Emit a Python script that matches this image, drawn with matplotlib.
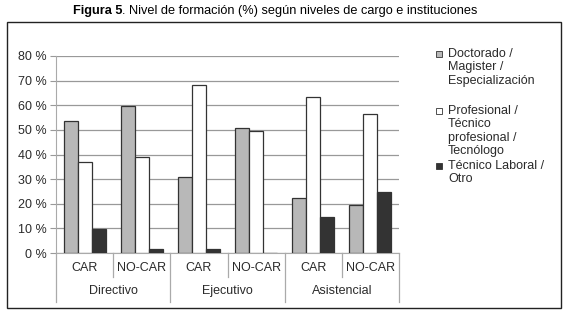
import numpy as np
import matplotlib.pyplot as plt
from matplotlib.patches import Rectangle

plt.rcParams['font.family'] = ['Liberation Sans', 'DejaVu Sans']

niveles = ['Directivo', 'Ejecutivo', 'Asistencial']
inst = ['CAR', 'NO-CAR']
series = ['Doctorado /\nMagister /\nEspecialización',
          'Profesional /\nTécnico\nprofesional /\nTecnólogo',
          'Técnico Laboral /\nOtro']
doctorado = [53.5, 59.8, 30.8, 50.7, 22.2, 19.5]
profesional = [37.0, 38.9, 68.2, 49.6, 63.3, 56.4]
laboral = [9.6, 1.6, 1.5, 0.0, 14.6, 24.8]
yticks = [0, 10, 20, 30, 40, 50, 60, 70, 80]

colores = ['#b8b8b8', '#ffffff', '#333333']
txtc = '#2a2a2a'

fig = plt.figure(figsize=(5.68, 3.21), dpi=100)
ax = fig.add_axes([56/568, 1-253/321, (399-56)/568, (253-56)/321])

x = np.arange(6)
w = 0.245
for i, vals in enumerate([doctorado, profesional, laboral]):
    ax.bar(x + (i-1)*w, vals, w, color=colores[i], edgecolor='#333333',
           linewidth=0.9, zorder=3)

ax.set_xlim(-0.5, 5.5)
ax.set_ylim(0, 80)
ax.set_yticks(yticks)
ax.set_yticklabels(['%d %%' % v for v in yticks], fontsize=9, color=txtc)
ax.yaxis.grid(True, color='#999999', linewidth=0.9, zorder=0)
ax.tick_params(axis='y', length=4, color='#999999', pad=3)
ax.set_xticks([])
for s in ['top', 'right']:
    ax.spines[s].set_visible(False)
ax.spines['left'].set_color('#aaaaaa')
ax.spines['bottom'].set_color('#aaaaaa')

tr = ax.get_xaxis_transform()
for k in range(7):
    xs = k - 0.5
    y0 = -0.249 if k % 2 == 0 else -0.122
    ax.plot([xs, xs], [0, y0], transform=tr, color='#aaaaaa', lw=0.9, clip_on=False)
for k in range(6):
    ax.text(k, -0.075, inst[k % 2], transform=tr, ha='center', va='center',
            fontsize=9, color=txtc)
for k in range(3):
    ax.text(2*k + 0.5, -0.195, niveles[k], transform=tr, ha='center', va='center',
            fontsize=9, color=txtc)

# leyenda
leg_y = [54, 111, 166]
for i in range(3):
    yy = 1 - leg_y[i]/321
    fig.patches.append(Rectangle((436/568, yy - 3/321), 6/568, 6/321,
                                 transform=fig.transFigure, facecolor=colores[i],
                                 edgecolor='#333333', lw=0.6))
    fig.text(448/568, yy + 6/321, series[i], fontsize=9, va='top', ha='left',
             color=txtc, linespacing=1.15)

# marco
fig.patches.append(Rectangle((7/568, 1-308/321), (561-7)/568, (308-22)/321,
                             transform=fig.transFigure, fill=False,
                             edgecolor='#222222', lw=1.0))

t1 = fig.text(73/568, 1-11/321, 'Figura 5', fontsize=9.2, fontweight='bold',
              ha='left', va='center')
fig.canvas.draw()
bb = t1.get_window_extent()
fig.text(bb.x1/568, 1-11/321, '. Nivel de formación (%) según niveles de cargo e instituciones',
         fontsize=9.2, ha='left', va='center')

fig.savefig('out.png', dpi=100)
